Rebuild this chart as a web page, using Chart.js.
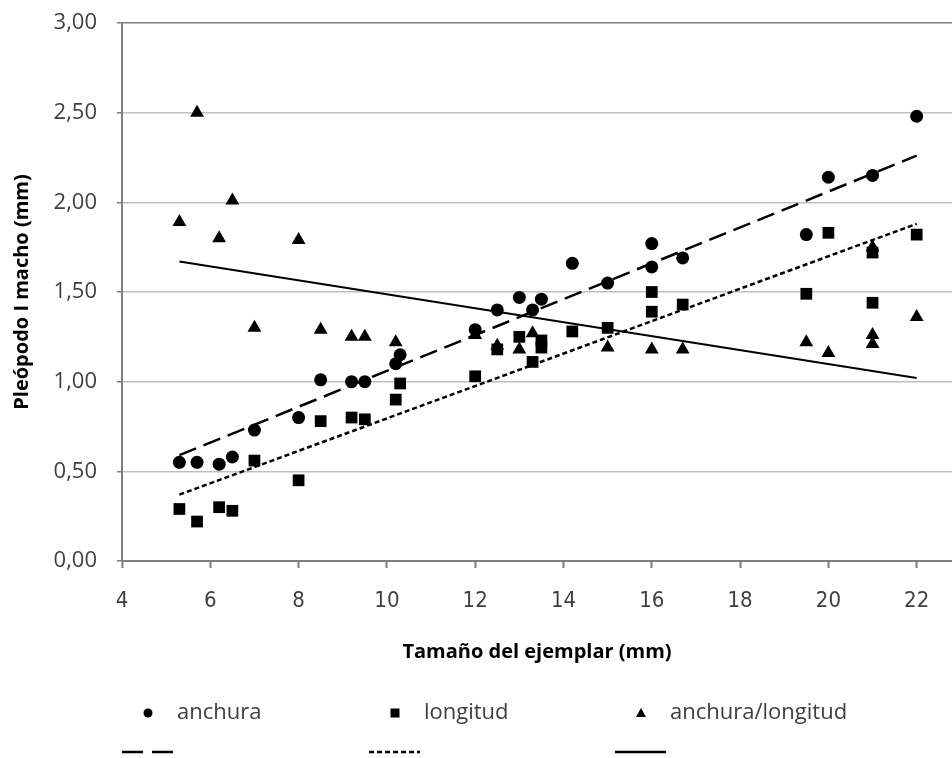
<!DOCTYPE html>
<html lang="es">
<head>
<meta charset="utf-8">
<title>Pleópodo I macho</title>
<script src="https://cdn.jsdelivr.net/npm/chart.js@4.4.1/dist/chart.umd.min.js"></script>
<style>
    html, body { margin: 0; padding: 0; background: #fff; overflow: hidden; }
    #plot { display: block; }
</style>
</head>
<body>
<canvas id="plot" width="952" height="758"></canvas>
<script>
/* ==================== 数据 ==================== */
// anchura (círculos)
const anchuraX = [5.3, 5.7, 6.2, 6.5, 7.0, 8.0, 8.5, 9.2, 9.5, 10.2, 10.3, 12.0, 12.5, 13.0, 13.3, 13.5, 14.2, 15.0, 16.0, 16.0, 16.7, 19.5, 20.0, 21.0, 22.0];
const anchuraY = [0.55, 0.55, 0.54, 0.58, 0.73, 0.80, 1.01, 1.00, 1.00, 1.10, 1.15, 1.29, 1.40, 1.47, 1.40, 1.46, 1.66, 1.55, 1.77, 1.64, 1.69, 1.82, 2.14, 2.15, 2.48];

// longitud (cuadrados)
const longitudX = [5.3, 5.7, 6.2, 6.5, 7.0, 8.0, 8.5, 9.2, 9.5, 10.2, 10.3, 12.0, 12.5, 13.0, 13.3, 13.5, 13.5, 14.2, 15.0, 16.0, 16.0, 16.7, 19.5, 20.0, 21.0, 21.0, 22.0];
const longitudY = [0.29, 0.22, 0.30, 0.28, 0.56, 0.45, 0.78, 0.80, 0.79, 0.90, 0.99, 1.03, 1.18, 1.25, 1.11, 1.23, 1.19, 1.28, 1.30, 1.50, 1.39, 1.43, 1.49, 1.83, 1.72, 1.44, 1.82];

// anchura/longitud (triángulos)
const ratioX = [5.3, 5.7, 6.2, 6.5, 7.0, 8.0, 8.5, 9.2, 9.5, 10.2, 12.0, 12.5, 13.0, 13.3, 15.0, 16.0, 16.7, 19.5, 20.0, 21.0, 21.0, 21.0, 22.0];
const ratioY = [1.89, 2.50, 1.80, 2.01, 1.30, 1.79, 1.29, 1.25, 1.25, 1.22, 1.26, 1.20, 1.18, 1.27, 1.19, 1.18, 1.18, 1.22, 1.16, 1.75, 1.26, 1.21, 1.36];

// líneas de tendencia (extremos)
const trendX = [5.3, 22];
const anchuraTrend = [0.59, 2.26];
const longitudTrend = [0.37, 1.88];
const ratioTrend = [1.67, 1.02];

// ejes
const xTicks = [4, 6, 8, 10, 12, 14, 16, 18, 20, 22];
const yTicks = [0, 0.5, 1, 1.5, 2, 2.5, 3];

const legendNames = ['anchura', 'longitud', 'anchura/longitud'];

/* ==================== 工具函数 ==================== */
const toPoints = (xs, ys) => xs.map((x, i) => ({ x: x, y: ys[i] }));

const INK = '#000000';
const TEXT = '#404040';
const FONT = "'Open Sans', 'DejaVu Sans', sans-serif";

/* ==================== 自定义图例 ==================== */
const legendPlugin = {
    id: 'excelLegend',
    afterDraw(chart) {
        const ctx = chart.ctx;
        const cols = [148, 395, 641];
        const rowMarker = 713;
        const rowLine = 752;
        const dashes = [[21, 9], [5, 3], []];

        ctx.save();
        ctx.fillStyle = INK;
        // círculo
        ctx.beginPath();
        ctx.arc(cols[0], rowMarker, 4.5, 0, Math.PI * 2);
        ctx.fill();
        // cuadrado
        ctx.fillRect(cols[1] - 4.5, rowMarker - 4.5, 9, 9);
        // triángulo
        ctx.beginPath();
        ctx.moveTo(cols[2], rowMarker - 5);
        ctx.lineTo(cols[2] + 5, rowMarker + 4);
        ctx.lineTo(cols[2] - 5, rowMarker + 4);
        ctx.closePath();
        ctx.fill();

        // textos
        ctx.fillStyle = TEXT;
        ctx.font = "22px " + FONT;
        ctx.textBaseline = 'middle';
        ctx.textAlign = 'left';
        legendNames.forEach((name, i) => ctx.fillText(name, cols[i] + 29, rowMarker));

        // muestras de línea
        ctx.strokeStyle = INK;
        ctx.lineWidth = 2.5;
        dashes.forEach((d, i) => {
            ctx.setLineDash(d);
            ctx.beginPath();
            ctx.moveTo(cols[i] - 26, rowLine);
            ctx.lineTo(cols[i] + 25, rowLine);
            ctx.stroke();
        });
        ctx.restore();
    }
};

/* ==================== 图表 ==================== */
new Chart(document.getElementById('plot'), {
    type: 'scatter',
    data: {
        datasets: [
            {
                label: 'tendencia anchura',
                data: toPoints(trendX, anchuraTrend),
                showLine: true,
                borderColor: INK,
                borderWidth: 2.5,
                borderDash: [18, 8],
                pointRadius: 0,
                order: 1
            },
            {
                label: 'tendencia longitud',
                data: toPoints(trendX, longitudTrend),
                showLine: true,
                borderColor: INK,
                borderWidth: 2.5,
                borderDash: [5, 3],
                pointRadius: 0,
                order: 2
            },
            {
                label: 'tendencia anchura/longitud',
                data: toPoints(trendX, ratioTrend),
                showLine: true,
                borderColor: INK,
                borderWidth: 2,
                pointRadius: 0,
                order: 3
            },
            {
                label: 'anchura/longitud',
                data: toPoints(ratioX, ratioY),
                pointStyle: 'triangle',
                pointRadius: 8,
                backgroundColor: INK,
                borderColor: INK,
                borderWidth: 0,
                order: 4
            },
            {
                label: 'longitud',
                data: toPoints(longitudX, longitudY),
                pointStyle: 'rect',
                pointRadius: 8.3,
                backgroundColor: INK,
                borderColor: INK,
                borderWidth: 0,
                order: 5
            },
            {
                label: 'anchura',
                data: toPoints(anchuraX, anchuraY),
                pointStyle: 'circle',
                pointRadius: 6.5,
                backgroundColor: INK,
                borderColor: INK,
                borderWidth: 0,
                order: 6
            }
        ]
    },
    options: {
        responsive: false,
        animation: false,
        events: [],
        layout: { autoPadding: false, padding: { left: 0, right: 0, top: 23, bottom: 87 } },
        plugins: {
            legend: { display: false },
            tooltip: { enabled: false }
        },
        scales: {
            x: {
                type: 'linear',
                min: 4,
                max: 22.8,
                afterBuildTicks(scale) {
                    scale.ticks = xTicks.map(v => ({ value: v }));
                },
                afterFit(scale) {
                    scale.height = 110;
                    scale.paddingLeft = 0;
                    scale.paddingRight = 0;
                },
                grid: {
                    drawOnChartArea: false,
                    drawTicks: true,
                    tickLength: 7,
                    tickColor: '#7f7f7f',
                    tickWidth: 2
                },
                border: { color: '#7f7f7f', width: 2 },
                ticks: {
                    color: TEXT,
                    padding: 20,
                    maxRotation: 0,
                    font: { family: "'DejaVu Sans Condensed', 'DejaVu Sans', sans-serif", size: 22 }
                },
                title: {
                    display: true,
                    text: 'Tamaño del ejemplar (mm)',
                    color: '#000',
                    padding: { top: 0, bottom: 7 },
                    font: { family: FONT, size: 20, weight: 'bold' }
                }
            },
            y: {
                min: 0,
                max: 3,
                afterBuildTicks(scale) {
                    scale.ticks = yTicks.map(v => ({ value: v }));
                },
                afterFit(scale) {
                    scale.width = 122;
                    scale.paddingTop = 0;
                    scale.paddingBottom = 0;
                },
                grid: {
                    color: ctx => (ctx.tick && ctx.tick.value === 3 ? '#7f7f7f' : '#bfbfbf'),
                    lineWidth: 1.5,
                    drawTicks: true,
                    tickLength: 5,
                    tickColor: '#7f7f7f'
                },
                border: { color: '#7f7f7f', width: 2 },
                ticks: {
                    color: TEXT,
                    padding: 20,
                    font: { family: FONT, size: 22 },
                    callback: v => v.toFixed(2).replace('.', ',')
                },
                title: {
                    display: true,
                    text: 'Pleópodo I macho (mm)',
                    color: '#000',
                    padding: { top: 10, bottom: 0 },
                    font: { family: FONT, size: 20, weight: 'bold' }
                }
            }
        }
    },
    plugins: [legendPlugin]
});
</script>
</body>
</html>
